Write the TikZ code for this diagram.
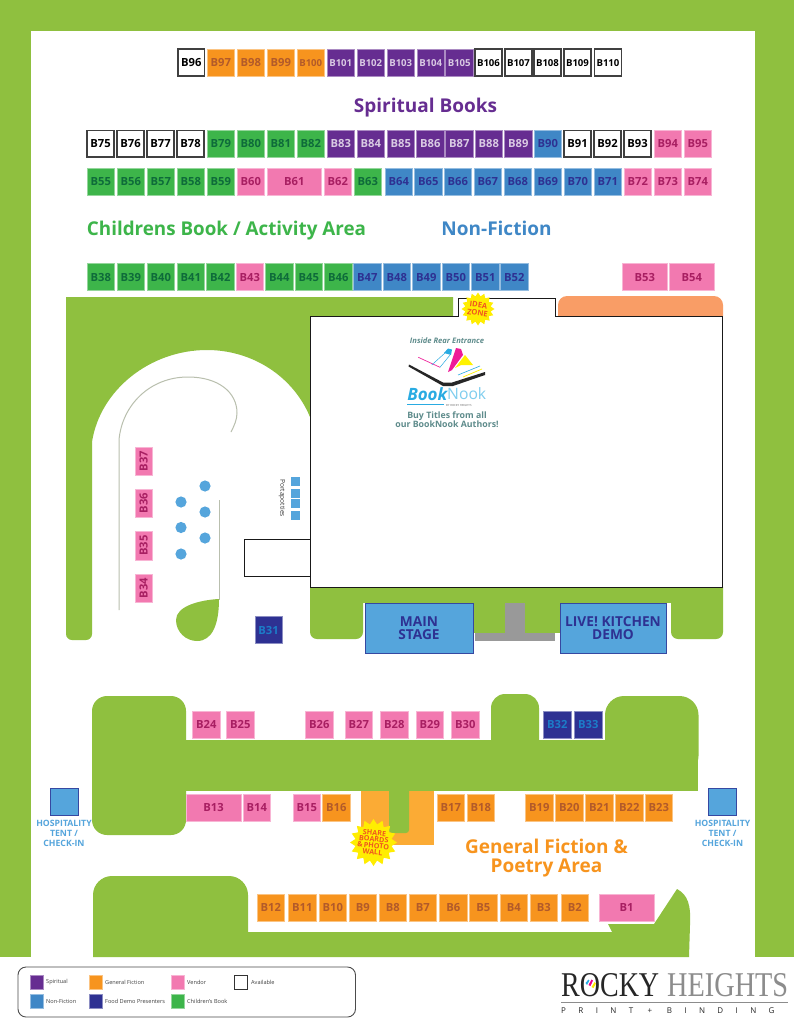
\documentclass[tikz,border=0pt]{standalone}
\usepackage{graphicx}
\usepackage{fontspec}
\setmainfont{Open Sans}
\newfontfamily\serifl{Liberation Serif}
\newfontfamily\spacedfont[LetterSpace=155]{Open Sans}
\usetikzlibrary{shapes.geometric}
\definecolor{lawn}{HTML}{8FC03F}
\definecolor{cgreen}{HTML}{3DB54A}
\definecolor{cpink}{HTML}{F279B0}
\definecolor{corange}{HTML}{F7941E}
\definecolor{cpurple}{HTML}{662D91}
\definecolor{cblue}{HTML}{3F87C6}
\definecolor{cnavy}{HTML}{2E3192}
\definecolor{sky}{HTML}{55A5DC}
\definecolor{teal}{HTML}{5F8C8C}
\definecolor{starred}{HTML}{F0561F}
\definecolor{lightorange}{HTML}{FBAB35}
\definecolor{peach}{HTML}{F99D66}
\definecolor{cyanl}{HTML}{29ABE2}
\definecolor{pathgray}{HTML}{B9BFAE}
\definecolor{labgreen}{HTML}{0E6B3A}
\definecolor{labpink}{HTML}{A81F62}
\definecolor{laborange}{HTML}{B25A2A}
\definecolor{labnavy}{HTML}{1C7CC8}
\tikzset{
  x=1pt,y=-1pt,
  booth/.style={inner sep=0pt,outer sep=0pt,text height=8pt,text depth=0pt,font=\fontsize{11.2}{11}\bfseries,line width=0.7pt},
  bgreen/.style={booth,fill=cgreen,draw=cgreen!55!white,text=labgreen},
  bpink/.style={booth,fill=cpink,draw=cpink!55!white,text=labpink},
  borange/.style={booth,fill=corange,draw=corange!55!white,text=laborange},
  bpurple/.style={booth,fill=cpurple,draw=cpurple!55!white,text=cpurple!25!white},
  bblue/.style={booth,fill=cblue,draw=cblue!55!white,text=cnavy},
  bnavy/.style={booth,fill=cnavy,draw=cnavy!55!white,text=labnavy},
  bfree/.style={booth,fill=white,draw=black!75,line width=1.2pt,text=black},
  small/.style={font=\fontsize{9.6}{10}\bfseries},
  heading/.style={inner sep=0pt,font=\fontsize{19}{19}\bfseries},
  hosp/.style={inner sep=0pt,align=center,text=sky,font=\fontsize{8.7}{10}\bfseries},
  tent/.style={fill=sky,draw=cnavy!80!sky,line width=1pt,minimum size=27.5pt,inner sep=0pt},
  stage/.style={fill=sky,draw=cnavy!80!sky,line width=1pt,inner sep=0pt,align=center,text=cnavy,font=\fontsize{13.7}{12.5}\bfseries},
  burst/.style={star,star points=16,star point ratio=1.28,fill=yellow!95!orange,inner sep=0pt},
  bursttext/.style={inner sep=0pt,align=center,text=starred,font=\fontsize{7.2}{6.5}\bfseries},
  legendtext/.style={inner sep=0pt,anchor=west,font=\fontsize{5.6}{6}\selectfont,text=black!75},
  legendkey/.style={inner sep=0pt,minimum width=13pt,minimum height=14pt,line width=0.5pt},
  tree/.style={fill=sky,draw=none},
  booktext/.style={inner sep=0pt,text=teal,align=center}
}
\newcommand\bth[6]{\node[#1,minimum width={(#4-#3)*1pt},minimum height={(#6-#5)*1pt}] (#2) at ({(#3+#4)/2},{(#5+#6)/2}) {#2};}
\newcommand\vbth[5]{\node[#1,rotate=90,minimum width={(#5-#4)*1pt},minimum height=17pt] (#2) at (#3,{(#4+#5)/2}) {#2};}
\begin{document}
\begin{tikzpicture}
\useasboundingbox (0,0) rectangle (794,1024);
\fill[white] (0,0) rectangle (794,1024);
% frame
\fill[lawn] (0,0) rectangle (794,957);
\fill[white] (31,31) rectangle (755,957);
% upper-left lawn
\fill[lawn] (66,297) -- (453,297) -- (453,316) -- (310,316) -- (310,417)
  .. controls (293,376) and (252,350) .. (207,350)
  .. controls (150,350) and (100,390) .. (92,442)
  [rounded corners=6pt] -- (92,640) -- (66,640) -- (66,625) [sharp corners] -- cycle;
% orange band
\fill[peach,rounded corners=9pt] (558,316) -- (558,296) -- (723,296) [sharp corners] -- (723,316) -- cycle;
% lawn below the building
\fill[lawn,rounded corners=7pt] (310,580) -- (310,639) -- (363,639) -- (363,580) -- cycle;
\fill[lawn,rounded corners=7pt] (671,580) -- (671,639) -- (723,639) -- (723,580) -- cycle;
\fill[lawn] (355,580) rectangle (680,603);
\fill[lawn] (473,600) rectangle (560,633);
\fill[black!40] (475,633) rectangle (555,641);
\fill[black!40] (505,603) rectangle (525,633);
% building
\draw[black!90,line width=1pt,fill=white] (244,539) rectangle (310,576);
\draw[black!90,line width=1pt,fill=white] (310,316) -- (458,316) -- (458,298.5) -- (555,298.5) -- (555,316) -- (722.5,316) -- (722.5,587) -- (310,587) -- cycle;
% walkway lines
\draw[pathgray,line width=1pt] (119,610) -- (119,440) .. controls (122,405) and (150,377) .. (188,377) .. controls (218,377) and (237,392) .. (237,413) .. controls (237,420) and (234,426) .. (231,432);
\draw[pathgray,line width=1pt] (219,500) -- (219,600);
\fill[lawn] (219,599) .. controls (200,600) and (176,606) .. (176,620) .. controls (176,632) and (186,641) .. (197,641) .. controls (212,641) and (219,625) .. (219,599) -- cycle;
% trees
\foreach \px/\py in {205/486,181/502,205/512,181/527.5,205/538,181/554}{\fill[tree] (\px,\py) circle (5.6);}
% portapotties
\foreach \py in {477,488.5,499,510.5}{\fill[sky] (291,\py) rectangle (300,\py+9);}
\node[inner sep=0pt,rotate=-90,font=\fontsize{6.6}{7}\selectfont,text=black!80] (porta) at (282,498) {Portapotties};
% lower lawn
\fill[lawn,rounded corners=15pt] (92,696) rectangle (186,835);
\fill[lawn] (175,740) rectangle (698,791);
\fill[lawn,rounded corners=14pt] (491,694) rectangle (539,770);
\fill[lawn,rounded corners=19pt] (605,696) rectangle (698.5,775);
% share wall
\fill[lightorange] (361,791) -- (434,791) -- (434,845) -- (361,845) -- cycle;
\fill[lawn,rounded corners=3pt] (389,785) -- (389,833) -- (409,833) -- (409,785) -- cycle;
\fill[lawn] (389,785) rectangle (409,795);
% bottom lawn
\fill[lawn] (93,957) [rounded corners=19pt] -- (93,876) -- (248,876) [sharp corners] -- (248,932) -- (612,932) -- (608,924) -- (654,924) -- (677,889) .. controls (688,895) and (691,905) .. (690,925) -- (689,957) -- cycle;
% booths: row 1
\bth{bfree}{B96}{178}{204.5}{49}{76}
\foreach \n/\xa in {B97/207,B98/237,B99/267}{\bth{borange}{\n}{\xa}{\xa+27.5}{49}{76.5}}
\bth{borange,small}{B100}{297}{324.5}{49}{76.5}
\foreach \n/\xa in {B101/327,B102/357,B103/387,B104/417,B105/445.5}{\bth{bpurple,small}{\n}{\xa}{\xa+27.5}{49}{76.5}}
\foreach \n/\xa in {B106/475,B107/505,B108/534,B109/564,B110/594.5}{\bth{bfree,small}{\n}{\xa}{\xa+27}{49}{76}}
% row 2
\foreach \n/\xa in {B75/87,B76/117,B77/147,B78/177}{\bth{bfree}{\n}{\xa}{\xa+27}{130.5}{157}}
\foreach \n/\xa in {B79/207,B80/237,B81/267,B82/297}{\bth{bgreen}{\n}{\xa}{\xa+27.5}{130}{157.5}}
\foreach \n/\xa in {B83/327,B84/357,B85/387,B86/416.5,B87/445.5,B88/475,B89/504.5}{\bth{bpurple}{\n}{\xa}{\xa+27.5}{130}{157.5}}
\bth{bblue}{B90}{534}{561.5}{130}{157.5}
\foreach \n/\xa in {B91/564,B92/594,B93/624}{\bth{bfree}{\n}{\xa}{\xa+27}{130.5}{157}}
\foreach \n/\xa in {B94/654,B95/684}{\bth{bpink}{\n}{\xa}{\xa+27.5}{130}{157.5}}
% row 3
\foreach \n/\xa in {B55/87,B56/117,B57/147,B58/177,B59/207}{\bth{bgreen}{\n}{\xa}{\xa+27.5}{168}{195.5}}
\bth{bpink}{B60}{237}{264.5}{168}{195.5}
\bth{bpink}{B61}{267}{321.5}{168}{195.5}
\bth{bpink}{B62}{324}{351.5}{168}{195.5}
\bth{bgreen}{B63}{354}{381.5}{168}{195.5}
\foreach \n/\xa in {B64/385,B65/414.5,B66/444,B67/474,B68/504,B69/534,B70/564,B71/594}{\bth{bblue}{\n}{\xa}{\xa+27.5}{168}{195.5}}
\foreach \n/\xa in {B72/624,B73/654,B74/684}{\bth{bpink}{\n}{\xa}{\xa+27.5}{168}{195.5}}
% row 4
\foreach \n/\xa in {B38/87,B39/117,B40/147,B41/177,B42/206.5}{\bth{bgreen}{\n}{\xa}{\xa+27.5}{263.5}{290.5}}
\bth{bpink}{B43}{236}{263.5}{263.5}{290.5}
\foreach \n/\xa in {B44/265.5,B45/295,B46/324.5}{\bth{bgreen}{\n}{\xa}{\xa+27.5}{263.5}{290.5}}
\foreach \n/\xa in {B47/353.5,B48/383,B49/412.5,B50/442,B51/471.5,B52/500.5}{\bth{bblue}{\n}{\xa}{\xa+27.5}{263.5}{290.5}}
\bth{bpink}{B53}{622.5}{667}{263.5}{290.5}
\bth{bpink}{B54}{669.5}{714}{263.5}{290.5}
% vertical booths
\vbth{bpink}{B37}{143.5}{447}{475.5}
\vbth{bpink}{B36}{143.5}{489}{517.5}
\vbth{bpink}{B35}{143.5}{531}{560}
\vbth{bpink}{B34}{143.5}{574}{602.5}
\bth{bnavy}{B31}{255}{282}{616.5}{643.5}
% upper row south
\foreach \n/\xa in {B24/192.5,B25/226.5,B26/305.5,B27/345,B28/380.5,B29/416,B30/451.5}{\bth{bpink}{\n}{\xa}{\xa+27.5}{711}{738}}
\foreach \n/\xa in {B32/543.5,B33/574.5}{\bth{bnavy}{\n}{\xa}{\xa+27.5}{711}{738}}
% middle row south
\bth{bpink}{B13}{186}{241}{794}{821.5}
\foreach \n/\xa in {B14/243,B15/293}{\bth{bpink}{\n}{\xa}{\xa+27.5}{794}{821.5}}
\foreach \n/\xa in {B16/322.5,B17/437,B18/467,B19/525.5,B20/555.5,B21/585.5,B22/615.5,B23/645}{\bth{borange}{\n}{\xa}{\xa+27.5}{794}{821.5}}
% bottom row
\foreach \n/\xa in {B12/257,B11/288.5,B10/319,B9/349,B8/379,B7/409,B6/439.5,B5/469.5,B4/500,B3/530,B2/561}{\bth{borange}{\n}{\xa}{\xa+27.5}{894}{921.5}}
\bth{bpink}{B1}{599}{654}{894}{921.5}
% headings
\node[heading,text=cpurple] (hspirit) at (425.5,107.5) {Spiritual Books};
\node[heading,text=cgreen] (hchild) at (226.5,230.5) {\scalebox{0.99}[1]{Childrens Book / Activity Area}};
\node[heading,text=cblue] (hnon) at (496.5,228) {Non-Fiction};
\node[heading,text=corange,align=center,font=\fontsize{19}{18.5}\bfseries] (hgen) at (546.5,858) {General Fiction \&\\Poetry Area};
% stages
\node[stage,minimum width=108pt,minimum height=50pt] (mainstage) at (419,628) {MAIN\\STAGE};
\node[stage,minimum width=106pt,minimum height=50pt] (kitchen) at (613,628) {LIVE! KITCHEN\\DEMO};
% hospitality
\node[tent] (tentl) at (64.3,802) {};
\node[tent] (tentr) at (722.5,802) {};
\node[hosp] (hospl) at (64,833) {HOSPITALITY\\TENT /\\CHECK-IN};
\node[hosp] (hospr) at (722.5,833) {HOSPITALITY\\TENT /\\CHECK-IN};
% stars
\node[burst,minimum size=47pt] (sharestar) at (373.5,842.5) {};
\node[bursttext,rotate=-6] (sharetext) at (373.5,842.5) {SHARE\\BOARDS\\\&\,PHOTO\\WALL};
\node[burst,minimum size=33pt] (ideastar) at (478,309) {};
\node[bursttext,rotate=-8,font=\fontsize{7.6}{8}\bfseries] (ideatext) at (478,309) {IDEA\\ZONE};
% BookNook logo
\node[booktext,font=\fontsize{7.6}{8}\bfseries\itshape] (inside) at (447,341) {Inside Rear Entrance};
\fill[black!85] (409,364.5) -- (443,382.5) -- (452,382.5) -- (485,372) -- (485,375) -- (453,386) -- (443,386) -- (408.5,366.5) -- cycle;
\draw[magenta!85!white,line width=0.7pt] (418.3,357.3) -- (440,367.3);
\draw[cyanl,line width=0.5pt] (431.7,365) -- (448.3,350);
\draw[cyanl,line width=0.5pt] (440,367.3) -- (450,355);
\fill[cyanl] (444,353) -- (448,348.5) -- (452,349.5) -- (451,355) -- cycle;
\fill[magenta!90!white] (448,372) -- (456,348) -- (461,349) -- (463,355) -- (452,370) -- cycle;
\fill[yellow] (455,368) -- (465,355) -- (473,365) -- (461,365) -- cycle;
\draw[cyanl,line width=0.6pt] (458,375) -- (480,366);
\draw[yellow,line width=0.7pt] (463,377) -- (482,369);
\node[inner sep=0pt,anchor=east,text=cyanl] (booktxt) at (447.5,394) {\resizebox{40pt}{!}{\bfseries\itshape Book}};
\node[inner sep=0pt,anchor=west,text=cyanl!60!white] (nooktxt) at (447,394) {\resizebox{39pt}{!}{Nook}};
\draw[cyanl,line width=0.7pt] (407,404.6) -- (444,404.6);
\node[inner sep=0pt,anchor=west,text=black!60,font=\fontsize{2.8}{3}\selectfont] (bytxt) at (446,405) {BY ROCKY HEIGHTS};
\node[booktext,font=\fontsize{8.8}{9}\bfseries] (buytxt) at (447,419.5) {Buy Titles from all\\our BookNook Authors!};
% legend
\draw[black!70,line width=0.9pt,fill=white,rounded corners=8pt] (18,967) rectangle (355.5,1017);
\node[legendkey,fill=cpurple,draw=cpurple!55!white] (k1) at (36.5,982) {};
\node[legendkey,fill=corange,draw=corange!55!white] (k2) at (95.5,982) {};
\node[legendkey,fill=cpink,draw=cpink!55!white] (k3) at (177.5,982) {};
\node[legendkey,fill=white,draw=black!80,line width=1pt] (k4) at (241,982) {};
\node[legendkey,fill=cblue,draw=cblue!55!white] (k5) at (36.5,1001) {};
\node[legendkey,fill=cnavy,draw=cnavy!55!white] (k6) at (95.5,1001) {};
\node[legendkey,fill=cgreen,draw=cgreen!55!white] (k7) at (177.5,1001) {};
\node[legendtext] (t1) at (46,982) {Spiritual};
\node[legendtext] (t2) at (105,982) {General Fiction};
\node[legendtext] (t3) at (187,982) {Vendor};
\node[legendtext] (t4) at (251,982) {Available};
\node[legendtext] (t5) at (46,1001) {Non-Fiction};
\node[legendtext] (t6) at (105,1001) {Food Demo Presenters};
\node[legendtext] (t7) at (187,1001) {Children's Book};
% Rocky Heights logo
\node[inner sep=0pt,anchor=west,text=black!85] (rocky) at (561,985.5) {\resizebox{98pt}{23pt}{\serifl ROCKY}};
\node[inner sep=0pt,anchor=west,text=black!45] (heights) at (667,985.5) {\resizebox{121pt}{23pt}{\serifl HEIGHTS}};
\fill[cyanl] (585.5,983) -- (588.5,979.5) -- (589.5,980.5) -- (587,985) -- cycle;
\fill[magenta] (588.5,985) -- (591.5,979.5) -- (593,980.5) -- (590.5,986) -- cycle;
\fill[yellow!90!orange] (591.5,987) -- (594.5,982) -- (596,983.5) -- (593.5,988) -- cycle;
\draw[black!45,line width=0.9pt] (561,1002) -- (788,1002);
\node[inner sep=0pt,anchor=west,text=black!85,font=\fontsize{8}{8}\spacedfont] (print) at (561,1011) {PRINT + BINDING};
\end{tikzpicture}
\end{document}
